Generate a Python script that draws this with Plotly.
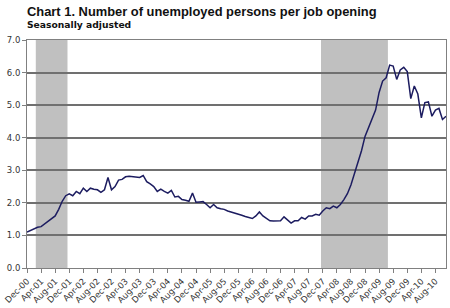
import plotly.graph_objects as go

months = ["Dec-00"]
mnames = ["Jan","Feb","Mar","Apr","May","Jun","Jul","Aug","Sep","Oct","Nov","Dec"]
for y in range(1, 11):
    for mn in mnames:
        months.append(f"{mn}-{y:02d}")
months = months[:120]  # Dec-00 .. Nov-10

ratio = [
    1.10, 1.15, 1.20, 1.25, 1.27, 1.35, 1.43, 1.50, 1.60, 1.80,
    2.05, 2.22, 2.28, 2.22, 2.35, 2.28, 2.45, 2.35, 2.45, 2.42,
    2.40, 2.32, 2.40, 2.78, 2.40, 2.50, 2.70, 2.72, 2.80, 2.82,
    2.80, 2.80, 2.78, 2.84, 2.65, 2.58, 2.50, 2.35, 2.42, 2.35,
    2.30, 2.38, 2.18, 2.20, 2.10, 2.08, 2.05, 2.30, 2.02, 2.03,
    2.04, 1.95, 1.85, 1.95, 1.85, 1.82, 1.80, 1.75, 1.72, 1.70,
    1.65, 1.62, 1.58, 1.55, 1.52, 1.60, 1.72, 1.60, 1.52, 1.45,
    1.44, 1.45, 1.45, 1.57, 1.48, 1.38, 1.45, 1.45, 1.55, 1.50,
    1.60, 1.60, 1.65, 1.62, 1.75, 1.85, 1.82, 1.90, 1.85, 1.95,
    2.10, 2.28, 2.55, 2.90, 3.20, 3.60, 4.04, 4.31, 4.56, 4.85,
    5.39, 5.74, 5.84, 6.23, 6.20, 5.79, 6.08, 6.16, 6.03, 5.20,
    5.59, 5.34, 4.61, 5.08, 5.10, 4.66, 4.85, 4.90, 4.56, 4.66,
]

# recessions (start month, end month) as labels
recessions = [("Mar-01", "Nov-01"), ("Dec-07", "Jun-09")]

tick_labels = months[0::4]
y_ticks = [0, 1, 2, 3, 4, 5, 6, 7]

title_text = "Chart 1. Number of unemployed persons per job opening"
subtitle_text = "Seasonally adjusted"

idx = list(range(len(months)))
fig = go.Figure()

for s, e in recessions:
    fig.add_shape(type="rect", xref="x", yref="y",
                  x0=months.index(s) - 0.5, x1=months.index(e) + 0.5,
                  y0=0, y1=7, fillcolor="#c0c0c0", line_width=0, layer="below")

fig.add_trace(go.Scatter(x=idx, y=ratio, mode="lines",
                         line=dict(color="#1c1c60", width=1.5),
                         hoverinfo="skip", showlegend=False))

PW, PH = 421, 232
def px(xp):
    return (xp - 26) / PW
def py(yp):
    return (272 - yp) / PH

fig.update_layout(
    width=450, height=308,
    margin=dict(l=26, r=3, t=40, b=36),
    paper_bgcolor="white", plot_bgcolor="white",
    font=dict(family="DejaVu Sans", size=8, color="#333333"),
    annotations=[
        dict(text=f"<b>{title_text}</b>", xref="paper", yref="paper",
             x=px(24), y=py(11), xanchor="left", yanchor="middle",
             showarrow=False,
             font=dict(family="Liberation Sans", size=12.9, color="#111111")),
        dict(text=f"<b>{subtitle_text}</b>", xref="paper", yref="paper",
             x=px(24), y=py(24.5), xanchor="left", yanchor="middle",
             showarrow=False,
             font=dict(family="DejaVu Sans", size=9.2, color="#111111")),
    ],
    xaxis=dict(range=[0, 119], tickmode="array",
               tickvals=idx[0::4], ticktext=tick_labels, tickangle=-45,
               ticks="outside", ticklen=4, tickcolor="#808080",
               showgrid=False, showline=True, linecolor="#808080", linewidth=1,
               mirror=True, zeroline=False, tickfont=dict(size=8.5)),
    yaxis=dict(range=[0, 7], tickmode="array", tickvals=y_ticks,
               tickformat=".1f", ticks="outside", ticklen=4, tickcolor="#808080",
               showgrid=True, gridcolor="#707070", gridwidth=1.5,
               showline=True, linecolor="#808080", linewidth=1, mirror=True,
               zeroline=False, tickfont=dict(size=8.5)),
)

fig.write_html("out.html")
